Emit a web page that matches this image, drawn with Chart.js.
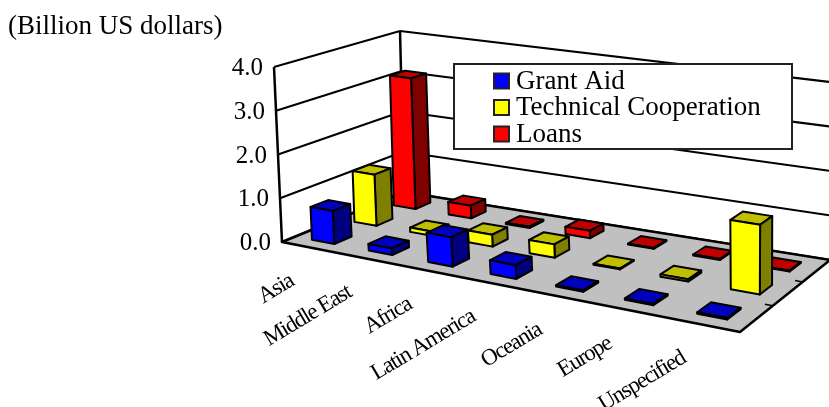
<!DOCTYPE html>
<html>
<head>
<meta charset="utf-8">
<style>
  html, body { margin: 0; padding: 0; background: #fff; }
  canvas { display: block; }
</style>
<script src="https://cdn.jsdelivr.net/npm/chart.js@4"></script>
</head>
<body>
<canvas id="regions" width="829" height="407"></canvas>
<script>
const categories = ["Asia", "Middle East", "Africa", "Latin America", "Oceania", "Europe", "Unspecified"];
const grantAid = [0.75, 0.15, 0.65, 0.3, 0.03, 0.03, 0.03];
const technicalCooperation = [1.2, 0.1, 0.27, 0.3, 0.02, 0.05, 1.5];
const loans = [3.15, 0.3, 0.03, 0.17, 0.02, 0.02, 0.02];

const serif = '"Liberation Serif", "Times New Roman", serif';

// screen corners of the box: front-left, front-right, back-right, back-left
const floorQuad = [[282, 242], [740, 332], [830, 260], [404, 192]];
const ceilingQuad = [[274, 67], [743, 139], [830, 82], [400, 31]];
// evens out the spacing along the front edge
const bow = 0.044;

function quadMap(quad) {
  const [[x0, y0], [x1, y1], [x2, y2], [x3, y3]] = quad;
  const dx1 = x1 - x2, dx2 = x3 - x2, sx = x0 - x1 + x2 - x3;
  const dy1 = y1 - y2, dy2 = y3 - y2, sy = y0 - y1 + y2 - y3;
  const den = dx1 * dy2 - dx2 * dy1;
  const g = (sx * dy2 - dx2 * sy) / den;
  const h = (dx1 * sy - sx * dy1) / den;
  const a = x1 - x0 + g * x1, b = x3 - x0 + h * x3;
  const d = y1 - y0 + g * y1, e = y3 - y0 + h * y3;
  return (u, v) => {
    const q = g * u + h * v + 1;
    return [(a * u + b * v + x0) / q, (d * u + e * v + y0) / q];
  };
}

const floorAt = quadMap(floorQuad);
const ceilingAt = quadMap(ceilingQuad);

function project(u, v, w) {
  const s = u + bow * u * (1 - u);
  const p = floorAt(s, v);
  const t = ceilingAt(s, v);
  return [p[0] + (t[0] - p[0]) * w, p[1] + (t[1] - p[1]) * w];
}

function shade(hex, f) {
  const n = parseInt(hex.slice(1), 16);
  const r = Math.round(((n >> 16) & 255) * f);
  const g = Math.round(((n >> 8) & 255) * f);
  const b = Math.round((n & 255) * f);
  return `rgb(${r},${g},${b})`;
}

function poly(ctx, points, fill) {
  ctx.beginPath();
  points.forEach((p, i) => (i ? ctx.lineTo(p[0], p[1]) : ctx.moveTo(p[0], p[1])));
  ctx.closePath();
  if (fill) {
    ctx.fillStyle = fill;
    ctx.fill();
  }
  ctx.stroke();
}

function line(ctx, a, b) {
  ctx.beginPath();
  ctx.moveTo(a[0], a[1]);
  ctx.lineTo(b[0], b[1]);
  ctx.stroke();
}

const box3d = {
  id: "box3d",

  beforeDatasetsDraw(chart) {
    const ctx = chart.ctx;
    const yScale = chart.scales.y;
    const area = chart.chartArea;
    ctx.save();
    ctx.strokeStyle = "#000";
    ctx.lineJoin = "round";

    // gridlines on the left and back walls
    ctx.lineWidth = 2;
    yScale.ticks.forEach((tick) => {
      const w = (area.bottom - yScale.getPixelForValue(tick.value)) / area.height;
      line(ctx, project(0, 0, w), project(0, 1, w));
      line(ctx, project(0, 1, w), project(1, 1, w));
    });

    ctx.lineWidth = 2.5;
    poly(ctx, [project(0, 0, 0), project(1, 0, 0), project(1, 1, 0), project(0, 1, 0)], "#C0C0C0");
    line(ctx, project(0, 0, 0), project(0, 0, 1));
    line(ctx, project(0, 1, 0), project(0, 1, 1));

    // depth ticks on the right side of the floor
    ctx.lineWidth = 1.5;
    [1 / 3, 2 / 3].forEach((v) => line(ctx, project(1, v, 0), project(0.985, v, 0)));
    ctx.restore();
  },

  beforeDatasetDraw(chart, args) {
    const ctx = chart.ctx;
    const area = chart.chartArea;
    const depth = chart.data.datasets.length;
    const color = args.meta.controller.getDataset().backgroundColor;
    const vMid = (args.index + 0.5) / depth;
    const dv = 0.4 / depth / 2;

    ctx.save();
    ctx.strokeStyle = "#000";
    ctx.lineWidth = 2;
    ctx.lineJoin = "round";
    args.meta.data.forEach((bar) => {
      const u0 = (bar.x - bar.width / 2 - area.left) / area.width;
      const u1 = (bar.x + bar.width / 2 - area.left) / area.width;
      const v0 = vMid - dv;
      const v1 = vMid + dv;
      const w = (area.bottom - bar.y) / area.height;
      poly(ctx, [project(u0, v0, w), project(u1, v0, w), project(u1, v1, w), project(u0, v1, w)], shade(color, 0.75));
      poly(ctx, [project(u1, v0, 0), project(u1, v1, 0), project(u1, v1, w), project(u1, v0, w)], shade(color, 0.5));
      poly(ctx, [project(u0, v0, 0), project(u1, v0, 0), project(u1, v0, w), project(u0, v0, w)], color);
    });
    ctx.restore();
    return false;
  },

  afterDatasetsDraw(chart) {
    const ctx = chart.ctx;
    const area = chart.chartArea;
    const yScale = chart.scales.y;
    const xScale = chart.scales.x;
    ctx.save();
    ctx.fillStyle = "#000";

    ctx.font = `27px ${serif}`;
    ctx.textAlign = "left";
    ctx.textBaseline = "middle";
    ctx.fillText("(Billion US dollars)", 8, 27);

    ctx.textAlign = "right";
    ctx.font = `25px ${serif}`;
    yScale.ticks.forEach((tick) => {
      const w = (area.bottom - yScale.getPixelForValue(tick.value)) / area.height;
      const p = project(0, 0, w);
      ctx.fillText(tick.label, p[0] - 11, p[1] + 1.5);
    });

    // category names follow the front edge of the floor
    ctx.font = `23px ${serif}`;
    ctx.letterSpacing = "-1.3px";
    chart.data.labels.forEach((label, i) => {
      const u = (xScale.getPixelForValue(i) - area.left) / area.width;
      const p = project(u, 0, 0);
      ctx.save();
      ctx.translate(p[0] - 18, p[1] + 32);
      ctx.rotate(-31 * Math.PI / 180);
      ctx.fillText(label, 0, 0);
      ctx.restore();
    });
    ctx.letterSpacing = "0px";

    // legend
    ctx.fillStyle = "#fff";
    ctx.strokeStyle = "#222";
    ctx.lineWidth = 2;
    ctx.fillRect(454, 64, 338, 85);
    ctx.strokeRect(454, 64, 338, 85);
    ctx.font = `27px ${serif}`;
    ctx.textAlign = "left";
    chart.data.datasets.forEach((dataset, i) => {
      const y = 81.5 + i * 26.5;
      ctx.fillStyle = dataset.backgroundColor;
      ctx.fillRect(494, y - 8, 15, 15);
      ctx.strokeRect(494, y - 8, 15, 15);
      ctx.fillStyle = "#000";
      ctx.fillText(dataset.label, 516, y);
    });
    ctx.restore();
  },
};

new Chart(document.getElementById("regions"), {
  type: "bar",
  data: {
    labels: categories,
    datasets: [
      { label: "Grant Aid", backgroundColor: "#0000FF", data: grantAid },
      { label: "Technical Cooperation", backgroundColor: "#FFFF00", data: technicalCooperation },
      { label: "Loans", backgroundColor: "#FF0000", data: loans },
    ],
  },
  options: {
    responsive: false,
    animation: false,
    events: [],
    layout: { padding: { left: 282, right: 89, top: 67, bottom: 165 } },
    datasets: { bar: { grouped: false, categoryPercentage: 0.4, barPercentage: 1 } },
    plugins: { legend: { display: false }, tooltip: { enabled: false } },
    scales: {
      x: { display: false },
      y: {
        display: false,
        min: 0,
        max: 4,
        ticks: { stepSize: 1, callback: (value) => value.toFixed(1) },
      },
    },
  },
  plugins: [box3d],
});
</script>
</body>
</html>
